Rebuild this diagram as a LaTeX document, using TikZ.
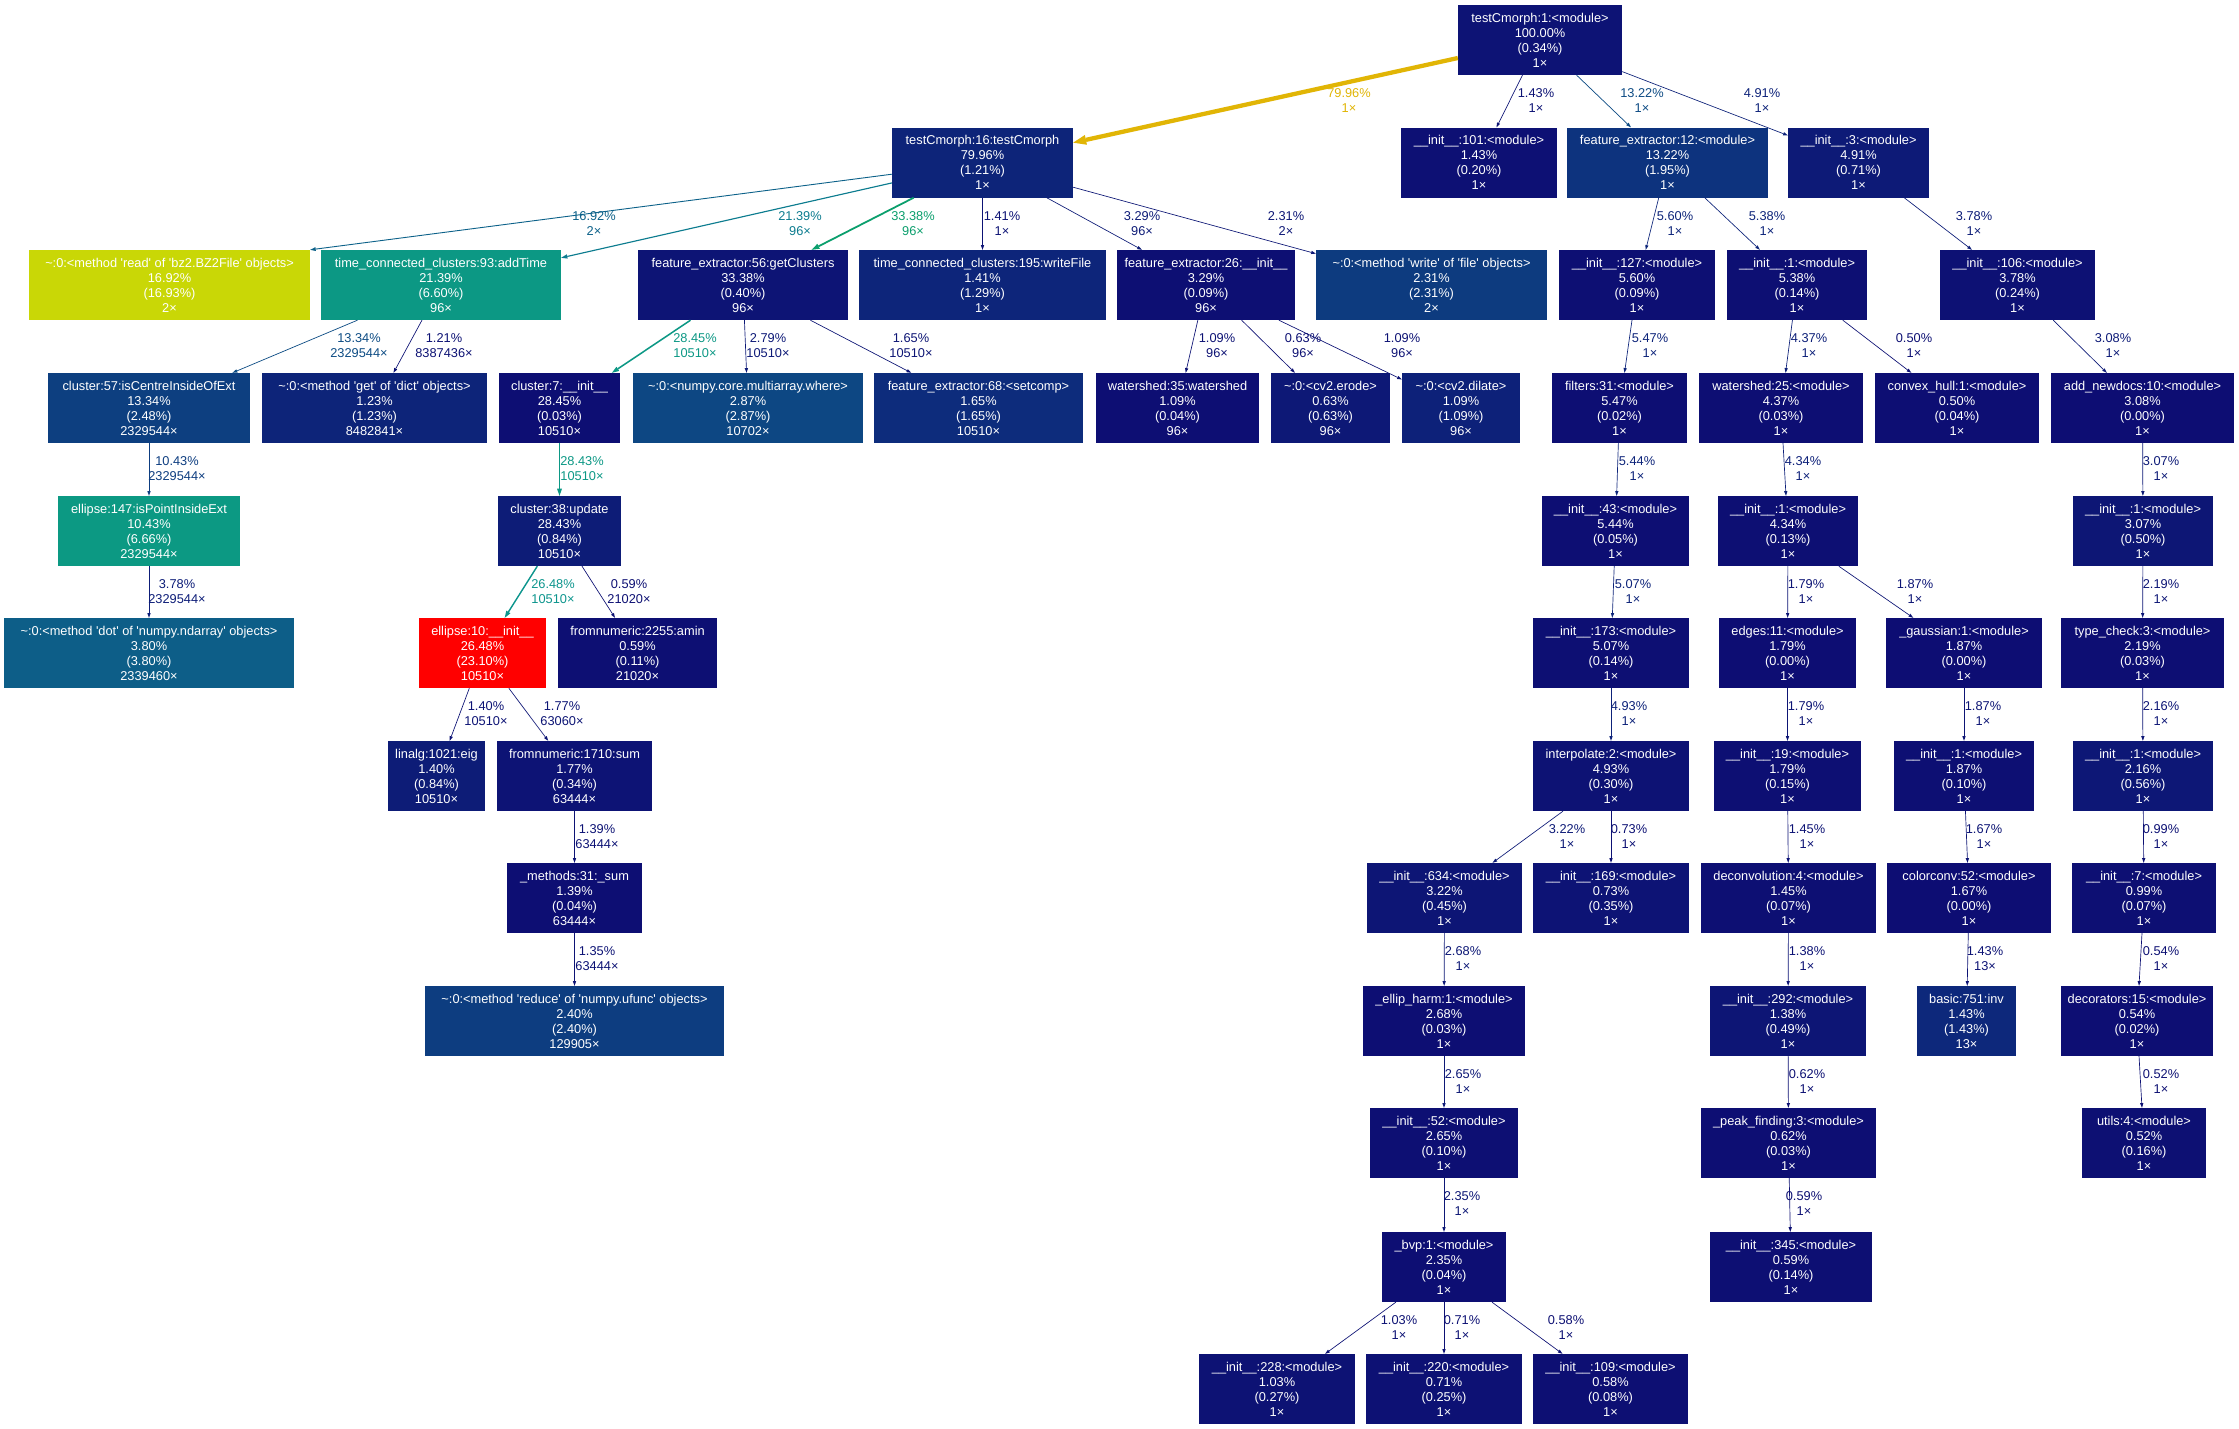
\documentclass[tikz,border=0pt]{standalone}
\usepackage{fontspec}
\setmainfont{Liberation Sans}
\usetikzlibrary{arrows.meta}
\newcommand\q{\textquotesingle}
\newcommand\ii{\_\_init\_\_}
\newcommand\tl{\textasciitilde}
\tikzset{
  fnode/.style={rectangle, inner sep=0pt, minimum height=70pt, text=white, align=center, font=\fontsize{12.8}{15}\selectfont},
  conn/.style={line width=0.67pt, -{Triangle[length=4.7pt,width=3.4pt,line width=0pt]}},
  elabel/.style={align=center, inner sep=0pt, font=\fontsize{12.8}{15}\selectfont},
  w80/.style={line width=4.27pt, -{Triangle[length=13pt,width=10pt,line width=0pt]}},
  w33/.style={line width=1.78pt, -{Triangle[length=7.7pt,width=5.5pt,line width=0pt]}},
  w28/.style={line width=1.52pt, -{Triangle[length=7.1pt,width=5pt,line width=0pt]}},
  w26/.style={line width=1.41pt, -{Triangle[length=6.9pt,width=4.9pt,line width=0pt]}},
  w21/.style={line width=1.14pt, -{Triangle[length=6.2pt,width=4.4pt,line width=0pt]}},
  w17/.style={line width=0.9pt, -{Triangle[length=5.5pt,width=3.9pt,line width=0pt]}},
  w13/.style={line width=0.71pt, -{Triangle[length=4.9pt,width=3.5pt,line width=0pt]}},
}
\newcommand\cnode[6]{%
  \definecolor{f#1}{HTML}{#5}%
  \node[fnode, fill=f#1, minimum width={(#3)-(#2)}] (#1) at ({((#2)+(#3))/2},#4) {#6};}
\newcommand\cedge[8]{%
  \definecolor{e#1#2}{HTML}{#3}%
  \draw[conn, draw=e#1#2, #4] (#1) -- (#2);
  \node[elabel, text=e#1#2] (l#1#2) at (#5,#6) {#7\\#8};}
\begin{document}
\begin{tikzpicture}[x=1pt,y=-1pt]
\fill[white] (0,0) rectangle (2239,1429);
\useasboundingbox (0,0) rectangle (2239,1429);
% nodes
\cnode{n1}{1458}{1622}{40}{0D1375}{testCmorph:1:<module>\\100.00\%\\(0.34\%)\\1×}
\cnode{n2}{892}{1073}{162.5}{0D2479}{testCmorph:16:testCmorph\\79.96\%\\(1.21\%)\\1×}
\cnode{n3}{1401}{1557}{162.5}{0D1074}{\ii:101:<module>\\1.43\%\\(0.20\%)\\1×}
\cnode{n4}{1567}{1768}{162.5}{0D337E}{feature\_extractor:12:<module>\\13.22\%\\(1.95\%)\\1×}
\cnode{n5}{1788}{1929}{162.5}{0D1A77}{\ii:3:<module>\\4.91\%\\(0.71\%)\\1×}
\cnode{n6}{29}{310}{285}{C9D706}{\tl:0:<method \q read\q{} of \q bz2.BZ2File\q{} objects>\\16.92\%\\(16.93\%)\\2×}
\cnode{n7}{321}{561}{285}{0C9884}{time\_connected\_clusters:93:addTime\\21.39\%\\(6.60\%)\\96×}
\cnode{n8}{638}{848}{285}{0D1475}{feature\_extractor:56:getClusters\\33.38\%\\(0.40\%)\\96×}
\cnode{n9}{859}{1106}{285}{0D257A}{time\_connected\_clusters:195:writeFile\\1.41\%\\(1.29\%)\\1×}
\cnode{n10}{1117}{1295}{285}{0D0F73}{feature\_extractor:26:\ii\\3.29\%\\(0.09\%)\\96×}
\cnode{n11}{1316}{1547}{285}{0D3B7F}{\tl:0:<method \q write\q{} of \q file\q{} objects>\\2.31\%\\(2.31\%)\\2×}
\cnode{n12}{1559}{1715}{285}{0D0F73}{\ii:127:<module>\\5.60\%\\(0.09\%)\\1×}
\cnode{n13}{1727}{1867}{285}{0D0F73}{\ii:1:<module>\\5.38\%\\(0.14\%)\\1×}
\cnode{n14}{1940}{2095}{285}{0D1174}{\ii:106:<module>\\3.78\%\\(0.24\%)\\1×}
\cnode{n15}{48}{250}{408}{0D3F80}{cluster:57:isCentreInsideOfExt\\13.34\%\\(2.48\%)\\2329544×}
\cnode{n16}{262}{487}{408}{0D2479}{\tl:0:<method \q get\q{} of \q dict\q{} objects>\\1.23\%\\(1.23\%)\\8482841×}
\cnode{n17}{499}{620}{408}{0D0E73}{cluster:7:\ii\\28.45\%\\(0.03\%)\\10510×}
\cnode{n18}{633}{863}{408}{0D4783}{\tl:0:<numpy.core.multiarray.where>\\2.87\%\\(2.87\%)\\10702×}
\cnode{n19}{874}{1083}{408}{0D2C7C}{feature\_extractor:68:<setcomp>\\1.65\%\\(1.65\%)\\10510×}
\cnode{n20}{1096}{1259}{408}{0D0E73}{watershed:35:watershed\\1.09\%\\(0.04\%)\\96×}
\cnode{n21}{1271}{1390}{408}{0D1876}{\tl:0:<cv2.erode>\\0.63\%\\(0.63\%)\\96×}
\cnode{n22}{1402}{1520}{408}{0D2179}{\tl:0:<cv2.dilate>\\1.09\%\\(1.09\%)\\96×}
\cnode{n23}{1552}{1687}{408}{0D0E73}{filters:31:<module>\\5.47\%\\(0.02\%)\\1×}
\cnode{n24}{1699}{1863}{408}{0D0E73}{watershed:25:<module>\\4.37\%\\(0.03\%)\\1×}
\cnode{n25}{1875}{2039}{408}{0D0E73}{convex\_hull:1:<module>\\0.50\%\\(0.04\%)\\1×}
\cnode{n26}{2051}{2234}{408}{0D0D73}{add\_newdocs:10:<module>\\3.08\%\\(0.00\%)\\1×}
\cnode{n27}{58}{240}{531}{0C9983}{ellipse:147:isPointInsideExt\\10.43\%\\(6.66\%)\\2329544×}
\cnode{n28}{498}{621}{531}{0D1C77}{cluster:38:update\\28.43\%\\(0.84\%)\\10510×}
\cnode{n29}{1542}{1689}{531}{0D0E73}{\ii:43:<module>\\5.44\%\\(0.05\%)\\1×}
\cnode{n30}{1718}{1858}{531}{0D0F73}{\ii:1:<module>\\4.34\%\\(0.13\%)\\1×}
\cnode{n31}{2073}{2213}{531}{0D1675}{\ii:1:<module>\\3.07\%\\(0.50\%)\\1×}
\cnode{n32}{4}{294}{653}{0D5E88}{\tl:0:<method \q dot\q{} of \q numpy.ndarray\q{} objects>\\3.80\%\\(3.80\%)\\2339460×}
\cnode{n33}{419}{546}{653}{FF0000}{ellipse:10:\ii\\26.48\%\\(23.10\%)\\10510×}
\cnode{n34}{558}{717}{653}{0D0F73}{fromnumeric:2255:amin\\0.59\%\\(0.11\%)\\21020×}
\cnode{n35}{1533}{1689}{653}{0D0F73}{\ii:173:<module>\\5.07\%\\(0.14\%)\\1×}
\cnode{n36}{1719}{1856}{653}{0D0D73}{edges:11:<module>\\1.79\%\\(0.00\%)\\1×}
\cnode{n37}{1886}{2042}{653}{0D0D73}{\_gaussian:1:<module>\\1.87\%\\(0.00\%)\\1×}
\cnode{n38}{2061}{2224}{653}{0D0E73}{type\_check:3:<module>\\2.19\%\\(0.03\%)\\1×}
\cnode{n39}{388}{485}{776}{0D1C77}{linalg:1021:eig\\1.40\%\\(0.84\%)\\10510×}
\cnode{n40}{497}{652}{776}{0D1375}{fromnumeric:1710:sum\\1.77\%\\(0.34\%)\\63444×}
\cnode{n41}{1533}{1689}{776}{0D1274}{interpolate:2:<module>\\4.93\%\\(0.30\%)\\1×}
\cnode{n42}{1714}{1861}{776}{0D0F73}{\ii:19:<module>\\1.79\%\\(0.15\%)\\1×}
\cnode{n43}{1894}{2034}{776}{0D0F73}{\ii:1:<module>\\1.87\%\\(0.10\%)\\1×}
\cnode{n44}{2073}{2213}{776}{0D1776}{\ii:1:<module>\\2.16\%\\(0.56\%)\\1×}
\cnode{n45}{507}{642}{898}{0D0E73}{\_methods:31:\_sum\\1.39\%\\(0.04\%)\\63444×}
\cnode{n46}{1367}{1522}{898}{0D1575}{\ii:634:<module>\\3.22\%\\(0.45\%)\\1×}
\cnode{n47}{1533}{1689}{898}{0D1375}{\ii:169:<module>\\0.73\%\\(0.35\%)\\1×}
\cnode{n48}{1701}{1876}{898}{0D0F73}{deconvolution:4:<module>\\1.45\%\\(0.07\%)\\1×}
\cnode{n49}{1887}{2051}{898}{0D0D73}{colorconv:52:<module>\\1.67\%\\(0.00\%)\\1×}
\cnode{n50}{2072}{2216}{898}{0D0F73}{\ii:7:<module>\\0.99\%\\(0.07\%)\\1×}
\cnode{n51}{425}{724}{1021}{0D3D80}{\tl:0:<method \q reduce\q{} of \q numpy.ufunc\q{} objects>\\2.40\%\\(2.40\%)\\129905×}
\cnode{n52}{1363}{1525}{1021}{0D0E73}{\_ellip\_harm:1:<module>\\2.68\%\\(0.03\%)\\1×}
\cnode{n53}{1710}{1866}{1021}{0D1575}{\ii:292:<module>\\1.38\%\\(0.49\%)\\1×}
\cnode{n54}{1917}{2016}{1021}{0D287B}{basic:751:inv\\1.43\%\\(1.43\%)\\13×}
\cnode{n55}{2061}{2213}{1021}{0D0E73}{decorators:15:<module>\\0.54\%\\(0.02\%)\\1×}
\cnode{n56}{1370}{1518}{1143}{0D0F73}{\ii:52:<module>\\2.65\%\\(0.10\%)\\1×}
\cnode{n57}{1701}{1876}{1143}{0D0E73}{\_peak\_finding:3:<module>\\0.62\%\\(0.03\%)\\1×}
\cnode{n58}{2082}{2206}{1143}{0D1073}{utils:4:<module>\\0.52\%\\(0.16\%)\\1×}
\cnode{n59}{1710}{1872}{1267}{0D0F73}{\ii:345:<module>\\0.59\%\\(0.14\%)\\1×}
\cnode{n60}{1382}{1506}{1267}{0D0E73}{\_bvp:1:<module>\\2.35\%\\(0.04\%)\\1×}
\cnode{n61}{1199}{1355}{1389}{0D1274}{\ii:228:<module>\\1.03\%\\(0.27\%)\\1×}
\cnode{n62}{1366}{1522}{1389}{0D1174}{\ii:220:<module>\\0.71\%\\(0.25\%)\\1×}
\cnode{n63}{1533}{1688}{1389}{0D0F73}{\ii:109:<module>\\0.58\%\\(0.08\%)\\1×}
% edges
\cedge{n1}{n2}{E1B505}{w80}{1349}{100.5}{79.96\%}{1×}
\cedge{n1}{n3}{0D1375}{}{1536}{100.5}{1.43\%}{1×}
\cedge{n1}{n4}{0D4B84}{w13}{1642}{100.5}{13.22\%}{1×}
\cedge{n1}{n5}{0D2279}{}{1762}{100.5}{4.91\%}{1×}
\definecolor{en2n6}{HTML}{0C6189}
\draw[conn, w17, draw=en2n6] (n2) -- (n6.north east);
\node[elabel, text=en2n6] (ln2n6) at (594,223.5) {16.92\%\\2×};
\cedge{n2}{n7}{0C7C8F}{w21}{800}{223.5}{21.39\%}{96×}
\cedge{n2}{n8}{0B9F6D}{w33}{913}{223.5}{33.38\%}{96×}
\cedge{n2}{n9}{0D1375}{}{1002}{223.5}{1.41\%}{1×}
\cedge{n2}{n10}{0D1B77}{}{1142}{223.5}{3.29\%}{96×}
\cedge{n2}{n11}{0D1776}{}{1286}{223.5}{2.31\%}{2×}
\cedge{n4}{n12}{0D257A}{}{1675}{223.5}{5.60\%}{1×}
\cedge{n4}{n13}{0D247A}{}{1767}{223.5}{5.38\%}{1×}
\cedge{n5}{n14}{0D1D78}{}{1974}{223.5}{3.78\%}{1×}
\cedge{n7}{n15}{0D4C84}{w13}{359}{345.5}{13.34\%}{2329544×}
\cedge{n7}{n16}{0D1274}{}{444}{345.5}{1.21\%}{8387436×}
\cedge{n8}{n17}{0C9885}{w28}{695}{345.5}{28.45\%}{10510×}
\cedge{n8}{n18}{0D1977}{}{768}{345.5}{2.79\%}{10510×}
\cedge{n8}{n19}{0D1575}{}{911}{345.5}{1.65\%}{10510×}
\cedge{n10}{n20}{0D1274}{}{1217}{345.5}{1.09\%}{96×}
\cedge{n10}{n21}{0D1073}{}{1303}{345.5}{0.63\%}{96×}
\cedge{n10}{n22}{0D1274}{}{1402}{345.5}{1.09\%}{96×}
\cedge{n12}{n23}{0D247A}{}{1650}{345.5}{5.47\%}{1×}
\cedge{n13}{n24}{0D2079}{}{1809}{345.5}{4.37\%}{1×}
\cedge{n13}{n25}{0D1073}{}{1914}{345.5}{0.50\%}{1×}
\cedge{n14}{n26}{0D1A77}{}{2113}{345.5}{3.08\%}{1×}
\cedge{n15}{n27}{0D3D80}{}{177}{468.5}{10.43\%}{2329544×}
\cedge{n17}{n28}{0C9885}{w28}{582}{468.5}{28.43\%}{10510×}
\cedge{n23}{n29}{0D247A}{}{1637}{468.5}{5.44\%}{1×}
\cedge{n24}{n30}{0D2079}{}{1803}{468.5}{4.34\%}{1×}
\cedge{n26}{n31}{0D1A77}{}{2161}{468.5}{3.07\%}{1×}
\cedge{n27}{n32}{0D1D78}{}{177}{591.5}{3.78\%}{2329544×}
\cedge{n28}{n33}{0C958D}{w26}{553}{591.5}{26.48\%}{10510×}
\cedge{n28}{n34}{0D1073}{}{629}{591.5}{0.59\%}{21020×}
\cedge{n29}{n35}{0D2379}{}{1633}{591.5}{5.07\%}{1×}
\cedge{n30}{n36}{0D1575}{}{1806}{591.5}{1.79\%}{1×}
\cedge{n30}{n37}{0D1575}{}{1915}{591.5}{1.87\%}{1×}
\cedge{n31}{n38}{0D1676}{}{2161}{591.5}{2.19\%}{1×}
\cedge{n33}{n39}{0D1375}{}{486}{713.5}{1.40\%}{10510×}
\cedge{n33}{n40}{0D1575}{}{562}{713.5}{1.77\%}{63060×}
\cedge{n35}{n41}{0D2279}{}{1629}{713.5}{4.93\%}{1×}
\cedge{n36}{n42}{0D1575}{}{1806}{713.5}{1.79\%}{1×}
\cedge{n37}{n43}{0D1575}{}{1983}{713.5}{1.87\%}{1×}
\cedge{n38}{n44}{0D1676}{}{2161}{713.5}{2.16\%}{1×}
\cedge{n40}{n45}{0D1375}{}{597}{836.5}{1.39\%}{63444×}
\cedge{n41}{n46}{0D1A77}{}{1567}{836.5}{3.22\%}{1×}
\cedge{n41}{n47}{0D1174}{}{1629}{836.5}{0.73\%}{1×}
\cedge{n42}{n48}{0D1375}{}{1807}{836.5}{1.45\%}{1×}
\cedge{n43}{n49}{0D1575}{}{1984}{836.5}{1.67\%}{1×}
\cedge{n44}{n50}{0D1174}{}{2161}{836.5}{0.99\%}{1×}
\cedge{n45}{n51}{0D1375}{}{597}{958.5}{1.35\%}{63444×}
\cedge{n46}{n52}{0D1876}{}{1463}{958.5}{2.68\%}{1×}
\cedge{n48}{n53}{0D1375}{}{1807}{958.5}{1.38\%}{1×}
\cedge{n49}{n54}{0D1375}{}{1985}{958.5}{1.43\%}{13×}
\cedge{n50}{n55}{0D1073}{}{2161}{958.5}{0.54\%}{1×}
\cedge{n52}{n56}{0D1876}{}{1463}{1081.5}{2.65\%}{1×}
\cedge{n53}{n57}{0D1073}{}{1807}{1081.5}{0.62\%}{1×}
\cedge{n55}{n58}{0D1073}{}{2161}{1081.5}{0.52\%}{1×}
\cedge{n56}{n60}{0D1776}{}{1462}{1203.5}{2.35\%}{1×}
\cedge{n57}{n59}{0D1073}{}{1804}{1203.5}{0.59\%}{1×}
\cedge{n60}{n61}{0D1274}{}{1399}{1327.5}{1.03\%}{1×}
\cedge{n60}{n62}{0D1174}{}{1462}{1327.5}{0.71\%}{1×}
\cedge{n60}{n63}{0D1073}{}{1566}{1327.5}{0.58\%}{1×}
\end{tikzpicture}
\end{document}
